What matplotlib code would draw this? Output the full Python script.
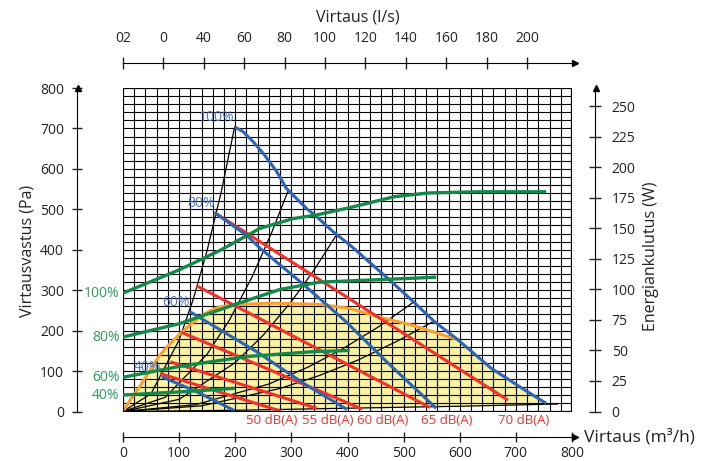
import numpy as np
import matplotlib
matplotlib.use("Agg")
import matplotlib.pyplot as plt
from matplotlib.patches import Rectangle

plt.rcParams['font.family'] = ['Open Sans', 'DejaVu Sans']

# fan curves (m3/h, Pa)
blue100_q = [199, 214, 232, 250, 274, 291, 327, 345, 374, 404, 472, 517, 555, 597, 656, 716, 754]
blue100_p = [704, 692, 667, 638, 593, 552, 502, 482, 445, 412, 329, 272, 222, 177, 107, 53, 20]
blue80_q = [163, 220, 244, 320, 395, 472, 558]
blue80_p = [492, 436, 404, 316, 225, 120, 8]
blue60_q = [119, 238, 327, 386, 399]
blue60_p = [247, 148, 65, 16, 5]
blue40_q = [69, 131, 199]
blue40_p = [86, 49, 2]

# sound level lines (start, end)
red_q = [[66, 281], [84, 345], [104, 426], [131, 547], [163, 686]]
red_p = [[94, 1], [123, 8], [196, 6], [311, 10], [492, 28]]
db_labels = ["50 dB(A)", "55 dB(A)", "60 dB(A)", "65 dB(A)", "70 dB(A)"]

# power consumption (m3/h, W)
g100_q = [0, 100, 173, 244, 303, 345, 404, 484, 544, 633, 754]
g100_w = [97, 116, 132, 150, 158, 161, 167, 176, 179, 180, 180]
g80_q = [0, 101, 208, 280, 351, 457, 558]
g80_w = [61, 72, 89, 100, 106, 108, 110]
g60_q = [0, 101, 220, 338, 404]
g60_w = [28, 37, 45, 49, 50]
g40_q = [0, 100, 199]
g40_w = [13.5, 16, 19]

# system curves
sys_q = [
    [0, 50, 100, 125, 150, 175, 199],
    [0, 75, 150, 190, 230, 265, 294],
    [0, 100, 200, 250, 300, 340, 380],
    [0, 130, 260, 330, 390, 455, 517],
    [0, 140, 280, 350, 420, 490, 555],
    [0, 200, 395, 600, 774],
]
sys_p = [
    [0, 44, 177, 277, 399, 543, 704],
    [0, 35, 142, 227, 333, 443, 545],
    [0, 30, 121, 189, 272, 349, 436],
    [0, 17, 68, 110, 154, 209, 270],
    [0, 14, 57, 89, 128, 175, 224],
    [0, 3, 8, 13, 18.5],
]

# recommended area boundary
orange_q = [0, 15, 30, 48, 66, 84, 101, 120, 137, 155, 173, 208, 262, 351, 404, 455, 514, 600]
orange_p = [0, 33, 62, 102, 140, 168, 191, 215, 234, 249, 259, 265, 268, 265, 255, 234, 214, 176]

pa_ticks = list(range(0, 801, 100))
q_ticks = list(range(0, 801, 100))
w_ticks = list(range(0, 251, 25))
ls_ticks = list(range(0, 201, 20))
ls_labels = ["02", "0", "40", "60", "80", "100", "120", "140", "160", "180", "200"]

BLUE = "#2e64b4"
RED = "#f2302c"
GREEN = "#12884a"
ORANGE = "#f7a02a"
YELLOW = "#f8f2a4"

fig = plt.figure(figsize=(7.01, 4.61), dpi=100)
ax = fig.add_axes([123 / 701, 1 - 411.5 / 461, 449 / 701, 323.5 / 461])
ax.set_xlim(0, 800)
ax.set_ylim(0, 800)

# yellow area
i0 = next(i for i, q in enumerate(blue100_q) if q > orange_q[-1])
top_q = orange_q + blue100_q[i0:]
top_p = orange_p + blue100_p[i0:]
ax.fill(top_q + sys_q[-1][::-1], top_p + sys_p[-1][::-1], color=YELLOW, lw=0, zorder=0)

# grid
ax.vlines(np.arange(20, 800, 20), 0, 800, color="black", lw=0.8, zorder=1)
ax.hlines(np.arange(20, 800, 20), 0, 800, color="black", lw=0.8, zorder=1)
ax.add_patch(Rectangle((0, 0), 800, 800, fill=False, lw=1.6, ec="black", zorder=6))

for qs, ps in zip(sys_q, sys_p):
    ax.plot(qs, ps, color="black", lw=0.9, zorder=2)

ax.plot(orange_q, orange_p, color=ORANGE, lw=2.2, zorder=3, solid_capstyle="butt")

for qs, ps in zip(red_q, red_p):
    ax.plot(qs, ps, color=RED, lw=2.2, zorder=3, solid_capstyle="butt")

for qs, ps in [(blue100_q, blue100_p), (blue80_q, blue80_p), (blue60_q, blue60_p), (blue40_q, blue40_p)]:
    ax.plot(qs, ps, color=BLUE, lw=2.2, zorder=4, solid_capstyle="butt")

# blue labels
for txt, q, p in [("100%", 199, 708), ("80%", 163, 496), ("60%", 119, 251), ("40%", 69, 90)]:
    ax.text(q, p, txt, color="#4a78c8", fontsize=10, ha="right", va="bottom", zorder=5)

# dB labels
for txt, q in zip(db_labels, [265, 365, 463, 577, 714]):
    ax.text(q, -6, txt, color=RED, fontsize=9.5, ha="center", va="top")

ax.spines["top"].set_visible(False)
ax.spines["right"].set_visible(False)
ax.spines["left"].set_position(("outward", 33))
ax.spines["bottom"].set_position(("outward", 18.4))
ax.set_yticks(pa_ticks)
ax.set_xticks(q_ticks)
ax.tick_params(axis="y", direction="inout", length=7, width=1, pad=6, labelsize=10, colors="#222222")
ax.tick_params(axis="x", direction="inout", length=7, width=1, pad=3, labelsize=10, colors="#222222")

# right axis: power
ax2 = ax.twinx()
ax2.set_ylim(0, 265)
for s in ["left", "top", "bottom"]:
    ax2.spines[s].set_visible(False)
ax2.spines["right"].set_position(("outward", 16.6))
ax2.set_yticks(w_ticks)
ax2.tick_params(axis="y", direction="inout", length=8, width=1, pad=8, labelsize=10, colors="#222222")
for qs, ws in [(g100_q, g100_w), (g80_q, g80_w), (g60_q, g60_w), (g40_q, g40_w)]:
    ax2.plot(qs, ws, color=GREEN, lw=2.4, zorder=4, solid_capstyle="butt")
for txt, w in [("100%", 97), ("80%", 61), ("60%", 28), ("40%", 13.5)]:
    ax2.text(-6, w, txt, color="#2f9a5c", fontsize=10, ha="right", va="center")

# top axis: l/s
secax = ax.secondary_xaxis(1.0773, functions=(lambda q: q / 3.6, lambda l: l * 3.6))
secax.set_xticks(ls_ticks)
secax.set_xticklabels(ls_labels)
secax.tick_params(axis="x", direction="inout", length=8, width=1, pad=8, labelsize=10, colors="#222222")

# arrows
arrow = dict(color="black", markersize=5, clip_on=False, transform=fig.transFigure)
fig.lines.append(plt.Line2D([77.5 / 701], [1 - 88 / 461], marker="^", **arrow))
fig.lines.append(plt.Line2D([595.5 / 701], [1 - 88 / 461], marker="^", **arrow))
fig.lines.append(plt.Line2D([575 / 701], [1 - 437 / 461], marker=">", **arrow))
fig.lines.append(plt.Line2D([575 / 701], [1 - 63 / 461], marker=">", **arrow))

fig.text(358 / 701, 1 - 18 / 461, "Virtaus (l/s)", fontsize=11.5, ha="center", va="center", color="#222222")
fig.text(28 / 701, 1 - 251 / 461, "Virtausvastus (Pa)", fontsize=11.5, ha="center", va="center", rotation=90, color="#222222")
fig.text(651 / 701, 1 - 256 / 461, "Energiankulutus (W)", fontsize=11.5, ha="center", va="center", rotation=90, color="#222222")
fig.text(584 / 701, 1 - 437 / 461, "Virtaus (m³/h)", fontsize=12.5, ha="left", va="center", color="#222222")

fig.savefig("out.png", dpi=100)
